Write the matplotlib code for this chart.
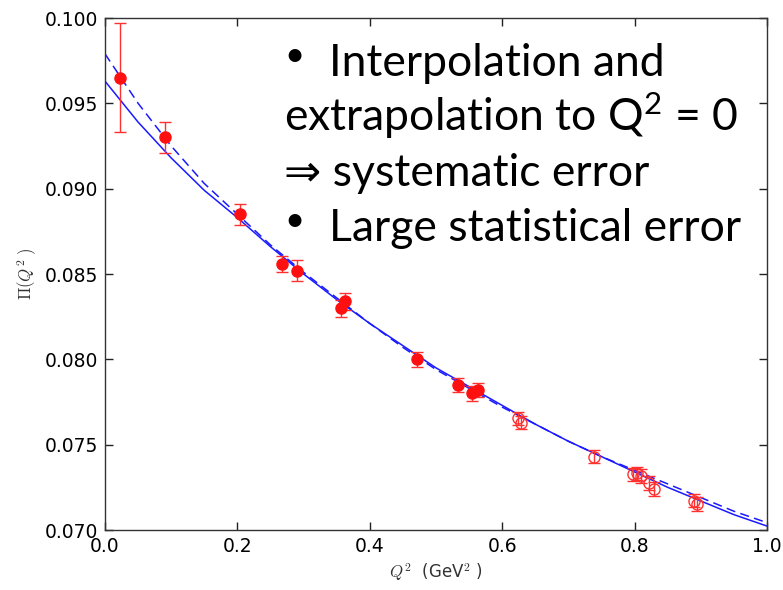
import matplotlib
matplotlib.use('Agg')
import matplotlib.pyplot as plt

# lattice points (filled: main set, open: second set)
q2_filled = [0.023, 0.091, 0.204, 0.267, 0.290, 0.357, 0.362, 0.471, 0.533, 0.555, 0.564]
pi_filled = [0.0965, 0.0930, 0.0885, 0.0856, 0.0852, 0.0830, 0.0834, 0.0800, 0.0785, 0.0780, 0.0782]
err_filled = [0.0032, 0.0009, 0.0006, 0.00046, 0.0006, 0.0005, 0.0005, 0.00045, 0.0004, 0.00046, 0.0004]

q2_open = [0.624, 0.628, 0.738, 0.798, 0.803, 0.810, 0.822, 0.830, 0.890, 0.895]
pi_open = [0.07654, 0.07629, 0.07430, 0.07326, 0.07332, 0.07316, 0.07277, 0.07240, 0.07172, 0.07152]
err_open = [0.0004, 0.0004, 0.0004, 0.0004, 0.0004, 0.0004, 0.0004, 0.0004, 0.0004, 0.0004]

# fit curves
q2_fit = [0.0, 0.05, 0.1, 0.15, 0.2, 0.25, 0.3, 0.35, 0.4, 0.45, 0.5,
          0.55, 0.6, 0.65, 0.7, 0.75, 0.8, 0.85, 0.9, 0.95, 1.0]
pi_fit_solid = [0.0963, 0.0939, 0.0918, 0.0899, 0.0883, 0.0866, 0.0850, 0.0835, 0.0821, 0.0808, 0.0795,
                0.0784, 0.0773, 0.0762, 0.0752, 0.0743, 0.0734, 0.0725, 0.0717, 0.0709, 0.07023]
pi_fit_dashed = [0.0979, 0.0950, 0.0925, 0.0903, 0.0885, 0.0867, 0.0851, 0.0836, 0.0821, 0.0807, 0.0794,
                 0.0783, 0.0772, 0.0762, 0.0752, 0.0743, 0.0735, 0.0727, 0.0719, 0.0711, 0.07043]

# (bullet, text) per line
bullets = ['\u2022', '', '', '\u2022']
lines = ['Interpolation and',
         'extrapolation to Q$^{2}$ = 0',
         '\u21d2 systematic error',
         'Large statistical error']

plt.rcParams['mathtext.fontset'] = 'custom'
plt.rcParams['mathtext.rm'] = 'Lato'
plt.rcParams['mathtext.it'] = 'Lato:italic'

fig = plt.figure(figsize=(7.83, 5.90), dpi=100)
ax = fig.add_axes([105 / 783, 60 / 590, 662 / 783, 512 / 590])

ax.plot(q2_fit, pi_fit_solid, color='#1a1aff', lw=1.1)
ax.plot(q2_fit, pi_fit_dashed, color='#1a1aff', lw=1.1, ls='--', dashes=(6, 3.5))

ax.errorbar(q2_filled, pi_filled, yerr=err_filled, fmt='o', color='#ff1010',
            ecolor='#ff3030', ms=8, capsize=4, elinewidth=1, capthick=1)
ax.errorbar(q2_open, pi_open, yerr=err_open, fmt='o', mfc='none', mec='#ff3030',
            ecolor='#ff3030', ms=8, mew=1, capsize=4, elinewidth=1, capthick=1)

ax.set_xlim(0, 1)
ax.set_ylim(0.070, 0.100)
ax.set_xticks([0.0, 0.2, 0.4, 0.6, 0.8, 1.0])
ax.set_yticks([0.070, 0.075, 0.080, 0.085, 0.090, 0.095, 0.100])
ax.set_xticklabels(['0.0', '0.2', '0.4', '0.6', '0.8', '1.0'])
ax.set_yticklabels(['0.070', '0.075', '0.080', '0.085', '0.090', '0.095', '0.100'])
ax.tick_params(direction='in', length=6, width=1, labelsize=13.5, top=True, right=True,
               color='#222222', pad=5)
for s in ax.spines.values():
    s.set_color('#333333')
    s.set_linewidth(1)

ax.set_xlabel(r'$Q^2$  (GeV$^2$ )', fontsize=12, color='#333333', math_fontfamily='cm')
ax.set_ylabel(r'$\Pi(Q^2\ )$', fontsize=12, color='#333333', math_fontfamily='cm')

# slide text on top of the plot
for i, (b, line) in enumerate(zip(bullets, lines)):
    y = 1 - (76 + i * 55) / 590
    if b:
        fig.text(284 / 783, y + 10 / 590, b, fontsize=25, family=['Lato', 'DejaVu Sans'],
                 color='black', va='baseline')
        x = 329 / 783
    else:
        x = 284 / 783
    fig.text(x, y, line, fontsize=32, family=['Lato', 'DejaVu Sans'],
             color='black', va='baseline')

fig.savefig('out.png', dpi=100)
